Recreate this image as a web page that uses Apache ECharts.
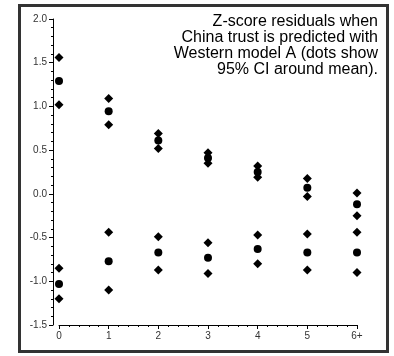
<!DOCTYPE html>
<html><head><meta charset="utf-8">
<script src="https://cdn.jsdelivr.net/npm/echarts@6/dist/echarts.min.js"></script>
<style>html,body{margin:0;padding:0;background:#fff}#c{width:394px;height:356px}</style>
</head><body><div id="c"></div>
<script>
var categories = [0, 1, 2, 3, 4, 5, 6];
var tickLabels = ['0', '1', '2', '3', '4', '5', '6+'];
var upperHi   = [1.56, 1.09, 0.69, 0.47, 0.32, 0.175, 0.01];
var upperMean = [1.29, 0.945, 0.61, 0.41, 0.25, 0.07, -0.12];
var upperLo   = [1.02, 0.79, 0.52, 0.35, 0.19, -0.03, -0.25];
var lowerHi   = [-0.85, -0.44, -0.49, -0.56, -0.47, -0.46, -0.44];
var lowerMean = [-1.03, -0.77, -0.67, -0.73, -0.63, -0.67, -0.67];
var lowerLo   = [-1.20, -1.10, -0.87, -0.91, -0.80, -0.87, -0.90];
var titleText = 'Z-score residuals when\nChina trust is predicted with\nWestern model A (dots show\n95% CI around mean).';

function pts(arr){ return categories.map(function(c,i){ return [c, arr[i]]; }); }
function ser(arr, sym, size){
  return {type:'scatter', xAxisIndex:0, yAxisIndex:0, symbol:sym, symbolSize:size,
    itemStyle:{color:'#000', opacity:1}, data:pts(arr), silent:true};
}
var font = 'Liberation Sans, Arial, sans-serif';
var chart = echarts.init(document.getElementById('c'), null, {renderer:'canvas'});
chart.setOption({
  animation:false,
  backgroundColor:'#fff',
  grid:[
    {left:59, right:37, top:19, bottom:31},
    {left:53, width:1, top:19, bottom:31}
  ],
  xAxis:[
    {type:'value', gridIndex:0, min:0, max:6, interval:1,
     axisLine:{onZero:false, lineStyle:{color:'#000', width:1}},
     axisTick:{length:4, lineStyle:{color:'#000'}},
     minorTick:{show:true, splitNumber:5, length:2, lineStyle:{color:'#000'}},
     splitLine:{show:false},
     axisLabel:{color:'#333', fontSize:10, fontFamily:font, margin:6,
       formatter:function(v){ return tickLabels[Math.round(v)]; }}},
    {type:'value', gridIndex:1, show:false, min:0, max:1}
  ],
  yAxis:[
    {type:'value', gridIndex:0, show:false, min:-1.5, max:2.0},
    {type:'value', gridIndex:1, min:-1.5, max:2.0, interval:0.5,
     axisLine:{show:true, onZero:false, lineStyle:{color:'#000', width:1}},
     axisTick:{show:true, length:4, lineStyle:{color:'#000'}},
     minorTick:{show:true, splitNumber:5, length:2, lineStyle:{color:'#000'}},
     splitLine:{show:false},
     axisLabel:{color:'#333', fontSize:10, fontFamily:font, margin:6,
       formatter:function(v){ return v.toFixed(1); }}}
  ],
  series:[
    ser(upperHi,'diamond',9), ser(upperMean,'circle',8), ser(upperLo,'diamond',9),
    ser(lowerHi,'diamond',9), ser(lowerMean,'circle',8), ser(lowerLo,'diamond',9)
  ],
  graphic:[
    {type:'rect', shape:{x:19.5, y:5.5, width:368, height:346},
     style:{fill:null, stroke:'#333', lineWidth:3}, silent:true, z:10},
    {type:'text', x:378, y:14, silent:true,
     style:{text:titleText, align:'right', verticalAlign:'top', fill:'#000',
       font:'16px ' + font, lineHeight:16}}
  ]
});
</script></body></html>
